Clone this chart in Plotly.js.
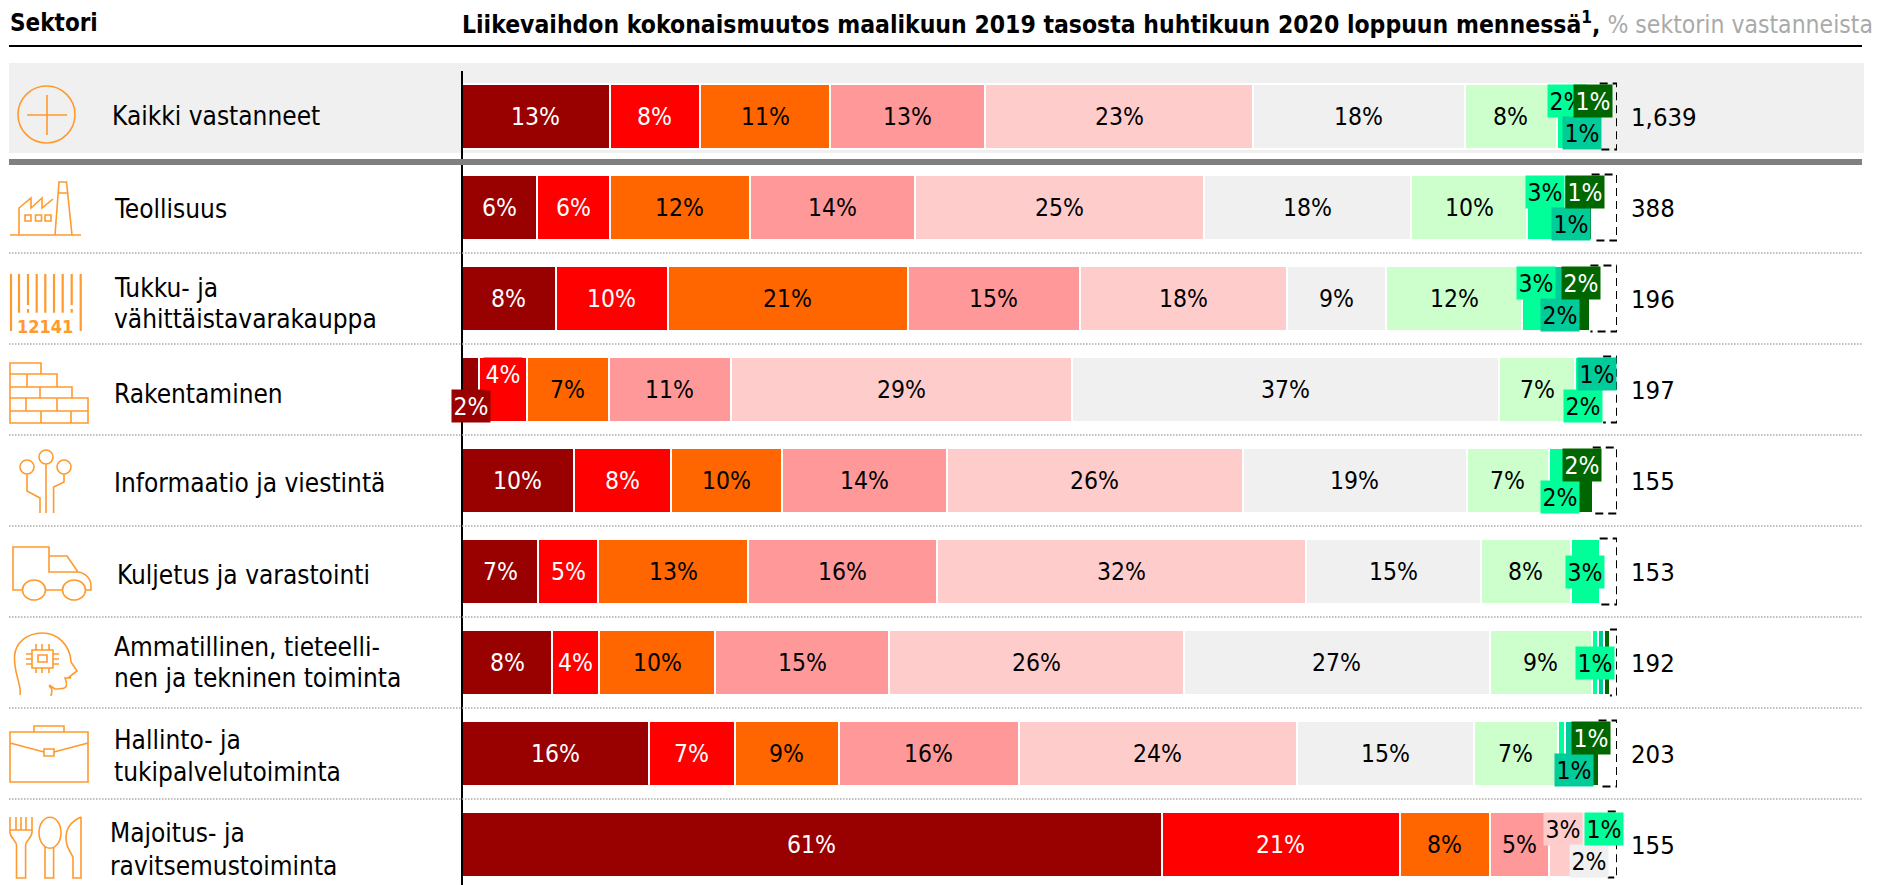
<!DOCTYPE html>
<html><head><meta charset="utf-8">
<script src="https://cdn.plot.ly/plotly-3.0.1.min.js"></script>
<style>html,body{margin:0;padding:0;background:#fff}#c{width:1885px;height:885px}</style>
</head><body><div id="c"></div>
<script>
const categories=['Kaikki vastanneet','Teollisuus','Tukku- ja<br>vähittäistavarakauppa','Rakentaminen','Informaatio ja viestintä','Kuljetus ja varastointi','Ammatillinen, tieteelli-<br>nen ja tekninen toiminta','Hallinto- ja<br>tukipalvelutoiminta','Majoitus- ja<br>ravitsemustoiminta'];
const respondents=['1,639','388','196','197','155','153','192','203','155'];
const s1=[12.8,6.5,8.1,1.5,9.7,6.6,7.8,16.2,60.6];
const s2=[7.8,6.3,9.7,4.1,8.4,5.2,4.1,7.4,20.6];
const s3=[11.3,12.1,20.8,7.1,9.6,13.0,10.0,9.0,7.8];
const s4=[13.4,14.3,14.9,10.6,14.3,16.3,15.1,15.6,5.1];
const s5=[23.2,25.0,17.9,29.5,25.6,32.0,25.5,24.1,2.4];
const s6=[18.3,18.0,8.6,37.0,19.4,15.1,26.5,15.3,2.1];
const s7=[8.0,10.0,11.8,6.6,7.1,7.8,8.8,7.3,0];
const s8=[1.7,3.2,2.4,1.3,1.9,2.5,0.55,0.6,0.6];
const s9=[0.9,1.2,1.8,1.1,0,0,0.55,1.6,0];
const s10=[1.1,1.2,1.7,0,1.9,0,0.5,1.3,0];
const l1=['13%','6%','8%','2%','10%','7%','8%','16%','61%'];
const l2=['8%','6%','10%','4%','8%','5%','4%','7%','21%'];
const l3=['11%','12%','21%','7%','10%','13%','10%','9%','8%'];
const l4=['13%','14%','15%','11%','14%','16%','15%','16%','5%'];
const l5=['23%','25%','18%','29%','26%','32%','26%','24%','3%'];
const l6=['18%','18%','9%','37%','19%','15%','27%','15%','2%'];
const l7=['8%','10%','12%','7%','7%','8%','9%','7%',''];
const l8=['2%','3%','3%','2%','2%','3%','1%','','1%'];
const l9=['1%','1%','2%','1%','','','','1%',''];
const l10=['1%','1%','2%','','2%','','','1%',''];

const series=[s1,s2,s3,s4,s5,s6,s7,s8,s9,s10];
const labels=[l1,l2,l3,l4,l5,l6,l7,l8,l9,l10];
const colors=['#990000','#FF0000','#FF6600','#FF9999','#FFCCCC','#F0F0F0','#CCFFCC','#00FF99','#00CC99','#006600'];
const textColors=['#fff','#fff','#000','#000','#000','#000','#000','#000','#000','#fff'];
const boxed={'0:7':'u','0:8':'d','0:9':'u','1:7':'u','1:8':'d','1:9':'u','2:7':'u','2:8':'d','2:9':'u',
 '3:0':'d','3:1':'u','3:7':'d','3:8':'u','4:7':'d','4:9':'u','5:7':'c','6:7':'c','7:8':'d','7:9':'u',
 '8:4':'u','8:5':'d','8:7':'u'};

const FONT='"DejaVu Sans Condensed","DejaVu Sans",sans-serif';
const NARROW='"Liberation Sans Narrow","DejaVu Sans Condensed",sans-serif';
const L=463,R=1617,T=71,H=885;
const px=x=>(x-L)/(R-L), py=y=>1-(y-T)/(H-T);

const traces=series.map((v,i)=>({type:'bar',orientation:'h',y:categories,x:v,name:'s'+(i+1),
  marker:{color:colors[i],line:{color:'#fff',width:2}},hoverinfo:'skip',showlegend:false}));

const annotations=[], shapes=[];
function txt(text,x,y,size,color,extra){annotations.push(Object.assign({text:text,xref:'paper',yref:'paper',x:px(x),y:py(y),
  xanchor:'left',yanchor:'middle',showarrow:false,align:'left',font:{family:FONT,size:size,color:color}},extra||{}));}

series.forEach((v,si)=>v.forEach((val,r)=>{
  const t=labels[si][r]; if(!t) return;
  let before=0; for(let k=0;k<si;k++) before+=series[k][r];
  const mode=boxed[r+':'+si];
  const a={text:t,xref:'x',yref:'y',x:before+val/2,y:r,showarrow:false,xanchor:'center',yanchor:'middle',
    font:{family:NARROW,size:24.5,color:textColors[si]}};
  if(mode){a.bgcolor=colors[si];a.width=38;a.height=32;a.borderpad=0;a.yshift=mode==='u'?16:mode==='d'?-16:0;}
  annotations.push(a);
}));

txt('<b>Sektori</b>',8,23,24,'#000');
txt('<b>Liikevaihdon kokonaismuutos maalikuun 2019 tasosta huhtikuun 2020 loppuun mennessä<sup>1</sup>,</b> <span style="color:#aaaaaa">% sektorin vastanneista</span>',460,23,24.5,'#000');

const labelX=[110,112,112,112,112,115,112,112,108];
const labelY=[[116],[209],[288,319],[394],[483],[575],[647,678],[740,772],[833,866]];
categories.forEach((c,i)=>c.split('<br>').forEach((ln,j)=>txt(ln,labelX[i],labelY[i][j],26,'#000')));
respondents.forEach((n,i)=>txt(n,1629,116.5+91*i,25.5,'#000'));
txt('<b>12141</b>',15,326,18,'#FF9A2E');

function rect(x0,y0,x1,y1,color,layer){shapes.push({type:'rect',xref:'paper',yref:'paper',x0:px(x0),x1:px(x1),y0:py(y0),y1:py(y1),fillcolor:color,line:{width:0},layer:layer});}
function hline(y,color,w,dash){shapes.push({type:'line',xref:'paper',yref:'paper',x0:px(9),x1:px(1862),y0:py(y),y1:py(y),line:{color:color,width:w,dash:dash||'solid'}});}
rect(9,63,1864,153,'#F0F0F0','below');
rect(9,159,1862,165,'#808080','above');
hline(46,'#000',2);
[253,344,435,526,617,708,799].forEach(y=>hline(y,'#aaaaaa',1.5,'1.5px,1.5px'));

categories.forEach((c,r)=>{
  const sum=series.reduce((a,v)=>a+v[r],0);
  const y0=r-33/91,y1=r+33/91;
  shapes.push({type:'path',xref:'x',yref:'y',path:`M ${sum} ${y0} L 100 ${y0} L 100 ${y1} L ${sum} ${y1}`,line:{color:'#000',width:2,dash:'8px,5px'}});
});

function P(d){return d.replace(/(-?[\d.]+) (-?[\d.]+)/g,(m,a,b)=>px(+a)+' '+py(+b));}
function icon(d,w){shapes.push({type:'path',xref:'paper',yref:'paper',path:P(d),line:{color:'#FF9A2E',width:w||1.6}});}
function circ(cx,cy,r,ry){ry=ry||r;const k=0.5523;return `M ${cx-r} ${cy} C ${cx-r} ${cy-k*ry} ${cx-k*r} ${cy-ry} ${cx} ${cy-ry} C ${cx+k*r} ${cy-ry} ${cx+r} ${cy-k*ry} ${cx+r} ${cy} C ${cx+r} ${cy+k*ry} ${cx+k*r} ${cy+ry} ${cx} ${cy+ry} C ${cx-k*r} ${cy+ry} ${cx-r} ${cy+k*ry} ${cx-r} ${cy} Z `;}
function box(a,b,c,d){return `M ${a} ${b} L ${c} ${b} L ${c} ${d} L ${a} ${d} Z `;}
icon(circ(46.5,114.5,28.5)+'M 27 115 L 67 115 M 47 95 L 47 135');
icon('M 10 235 L 81 235 M 19 235 L 19 208 L 31 198 L 31 208 L 42 198 L 42 208 L 53 199 M 55 235 L 59 182 L 66.5 182 L 72 235 M 58 193 L 67.5 193 '+box(25,215,31,221)+box(35.5,215,41.5,221)+box(45,215,51,221));
icon('M 11 274 L 11 331 M 80.7 274 L 80.7 331 M 19 274 L 19 312.7 M 36.7 274 L 36.7 312.7 M 45.3 274 L 45.3 312.7 M 54 274 L 54 312.7 M 62.7 274 L 62.7 312.7 M 28 274 L 28 305 M 28 309 L 28 312.7 M 71.7 274 L 71.7 305 M 71.7 309 L 71.7 312.7',2.2);
icon('M 10 363 L 41 363 L 41 374 L 57 374 L 57 387 L 72 387 L 72 398 L 88 398 L 88 423 L 10 423 Z M 10 374 L 41 374 M 10 387 L 57 387 M 10 398 L 72 398 M 10 411 L 88 411 M 27 374 L 27 387 M 40 387 L 40 398 M 26 398 L 26 411 M 57 398 L 57 411 M 41 411 L 41 423 M 71 411 L 71 423');
icon(circ(46,457,7)+circ(27,467,7)+circ(64,467,7)+'M 46 464 L 46 513 M 27 474 L 27 491 L 40 498 L 40 513 M 64 474 L 64 482 L 53.6 487 L 53.6 513');
icon('M 23 590 L 13 590 L 13 547 L 49 547 L 49 572 L 78 572 L 67 556 L 49 556 M 78 572 C 86 573 91 579 91 586 L 91 590 L 85 590 M 45 590 L 63 590 '+circ(34,590,11.5,10)+circ(74,590,11.5,10));
icon('M 20 695 C 22 685 14 675 14.5 657 C 15 642 28 633 42 633 C 58 633 70 645 71 662 L 77 671 L 69 677 L 71 678 L 65 678 C 70 690 62 689 55 689 L 49 685 M 49 686 C 53 688 52 692 51 696 '+box(32,650,53,668)+box(38,655,47,662)+'M 36 644 L 36 650 M 42 644 L 42 650 M 49 644 L 49 650 M 36 668 L 36 673 M 42 668 L 42 673 M 49 668 L 49 673 M 26 654 L 32 654 M 26 659 L 32 659 M 26 664 L 32 664 M 53 654 L 59 654 M 53 659 L 59 659 M 53 664 L 59 664');
icon(box(10,732,88,782)+'M 34 732 L 34 726 L 64 726 L 64 732 M 10 743 L 44 752 M 54 752 L 88 743 '+box(44,749,54,756));
icon('M 10 817 L 10 832 C 10 838 16 840 16.5 845 L 16.5 878 L 25.6 878 L 25.6 845 C 26 840 32 838 32 832 L 32 817 M 16 817 L 16 830 M 21 817 L 21 830 M 26 817 L 26 830 M 10 830 L 32 830 '+circ(50,832.7,11,15.5)+'M 45 847 L 45 878 L 53.6 878 L 53.6 847 M 81 817 L 81 878 L 73 878 L 73 857 C 68 848 66 845 66 838 C 66 828 72 821 81 817');

const layout={width:1885,height:885,margin:{l:L,r:1885-R,t:T,b:0,pad:0},paper_bgcolor:'#fff',plot_bgcolor:'rgba(0,0,0,0)',
  barmode:'stack',bargap:1-65/91,showlegend:false,
  xaxis:{range:[0.09,100],visible:false,fixedrange:true},
  yaxis:{type:'category',categoryorder:'array',categoryarray:categories,range:[8.445,-0.5],showticklabels:false,ticks:'',showgrid:false,zeroline:false,showline:true,linecolor:'#000',linewidth:2,fixedrange:true},
  annotations:annotations,shapes:shapes,hovermode:false};
Plotly.newPlot('c',traces,layout,{displayModeBar:false,staticPlot:true});
</script></body></html>
